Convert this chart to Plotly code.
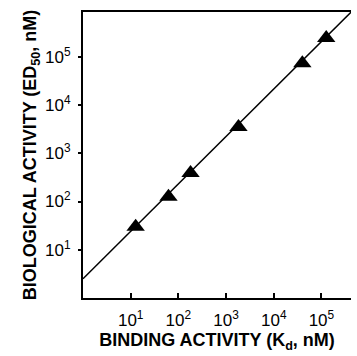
import plotly.graph_objects as go

# Data
binding_kd = [12.7, 62, 180, 1820, 39800, 126000]
biological_ed50 = [30, 126, 390, 3500, 74000, 246000]

fit_x = [1, 420000]
fit_y = [2.5, 850000]

tick_vals = [10, 100, 1000, 10000, 100000]
tick_text = ["10<sup>1</sup>", "10<sup>2</sup>", "10<sup>3</sup>", "10<sup>4</sup>", "10<sup>5</sup>"]

fig = go.Figure()
fig.add_trace(go.Scatter(x=fit_x, y=fit_y, mode="lines",
                         line=dict(color="black", width=1.5), showlegend=False))
fig.add_trace(go.Scatter(x=binding_kd, y=biological_ed50, mode="markers",
                         marker=dict(symbol="triangle-up", size=16, color="black"),
                         showlegend=False))

font_tick = dict(family="Liberation Sans", size=17, color="black")

fig.update_layout(
    width=357, height=356,
    margin=dict(l=83, r=6, t=12, b=58),
    paper_bgcolor="white", plot_bgcolor="white",
    xaxis=dict(type="log", range=[0, 5.62], showgrid=False, zeroline=False,
               showline=True, linecolor="black", linewidth=2, mirror=True,
               ticks="inside", ticklen=5, tickcolor="black", tickwidth=1.5,
               ticklabelstandoff=6,
               tickvals=tick_vals, ticktext=tick_text, tickfont=font_tick,
               title=dict(text="<b>BINDING ACTIVITY (K<sub>d</sub>, nM)</b>",
                          font=dict(family="Liberation Sans", size=18, color="black"), standoff=2)),
    yaxis=dict(type="log", range=[0, 5.93], showgrid=False, zeroline=False,
               showline=True, linecolor="black", linewidth=2, mirror=False,
               ticks="outside", ticklen=3, tickcolor="black", tickwidth=1.5,
               ticklabelstandoff=4,
               tickvals=tick_vals, ticktext=tick_text, tickfont=font_tick,
               title=dict(text="<b>BIOLOGICAL ACTIVITY (ED<sub>50</sub>, nM)</b>",
                          font=dict(family="Liberation Sans", size=18, color="black"), standoff=4)),
)

fig.write_html("out.html")
